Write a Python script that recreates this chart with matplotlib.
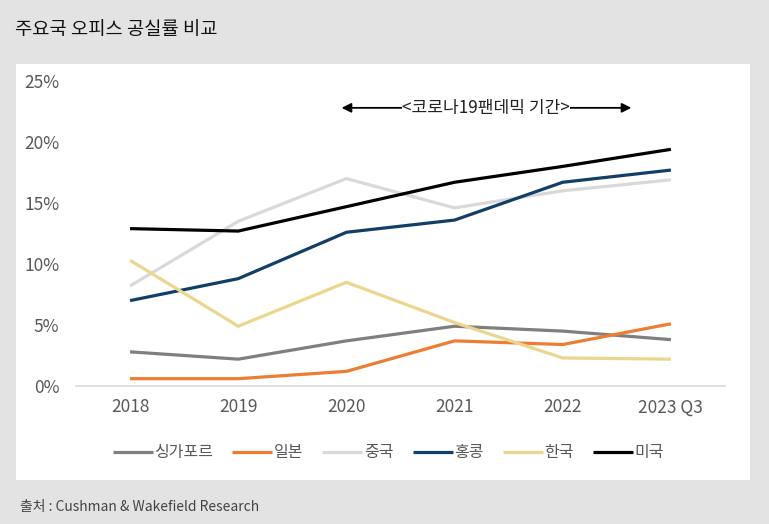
import matplotlib.pyplot as plt
from matplotlib.patches import Rectangle

plt.rcParams['font.family'] = ['Noto Sans CJK KR', 'DejaVu Sans']

years = ['2018', '2019', '2020', '2021', '2022', '2023 Q3']
singapore = [2.8, 2.2, 3.7, 4.9, 4.5, 3.8]
japan = [0.6, 0.6, 1.2, 3.7, 3.4, 5.1]
china = [8.2, 13.5, 17.0, 14.6, 16.0, 16.9]
hongkong = [7.0, 8.8, 12.6, 13.6, 16.7, 17.7]
korea = [10.3, 4.9, 8.5, 5.2, 2.3, 2.2]
usa = [12.9, 12.7, 14.7, 16.7, 18.0, 19.4]

series = [
    ('싱가포르', singapore, '#7f7f7f'),
    ('일본', japan, '#ed7d31'),
    ('중국', china, '#d9d9d9'),
    ('홍콩', hongkong, '#123f66'),
    ('한국', korea, '#ebd68e'),
    ('미국', usa, '#000000'),
]

fig = plt.figure(figsize=(7.69, 5.24), dpi=100, facecolor='#e3e3e3')
fig.patches.append(Rectangle((16 / 769, 1 - 480 / 524), (750 - 16) / 769, (480 - 64) / 524,
                             transform=fig.transFigure, facecolor='white', edgecolor='none', zorder=-5))

ax = fig.add_axes([76 / 769, 1 - 386 / 524, (725 - 76) / 769, (386 - 81) / 524])
ax.set_facecolor('none')
ax.set_zorder(2)

x = list(range(len(years)))
for name, vals, color in series:
    ax.plot(x, vals, color=color, lw=2.3, label=name, solid_capstyle='butt')

ax.set_xlim(-0.5, 5.5)
ax.set_ylim(0, 25)
ax.set_xticks(x)
ax.set_xticklabels(years)
ax.set_yticks([0, 5, 10, 15, 20, 25])
ax.set_yticklabels([f'{v}%' for v in [0, 5, 10, 15, 20, 25]])
ax.tick_params(length=0, labelsize=12.5, labelcolor='#595959')
ax.tick_params(axis='y', pad=12)
ax.tick_params(axis='x', pad=9)
for s in ['top', 'right', 'left']:
    ax.spines[s].set_visible(False)
ax.spines['bottom'].set_color('#d9d9d9')
ax.spines['bottom'].set_linewidth(1.2)

# pandemic period annotation
ax.annotate('', xy=(1.93, 22.8), xytext=(4.66, 22.8),
            arrowprops=dict(arrowstyle='<|-|>', color='black', lw=1.3, mutation_scale=14), zorder=3)
ax.text(3.29, 22.8, '<코로나19팬데믹 기간>', ha='center', va='center', fontsize=12.3,
        color='#222222', zorder=4, bbox=dict(facecolor='white', edgecolor='none', pad=0.3))

fig.legend(loc='center', bbox_to_anchor=(0.505, 1 - 453 / 524), ncol=6, frameon=False,
           fontsize=11.5, handlelength=2.5, handletextpad=0.1, columnspacing=1.2,
           labelcolor='#595959')

fig.text(15 / 769, 1 - 30 / 524, '주요국 오피스 공실률 비교', fontsize=13.5, color='#111111',
         ha='left', va='center')
fig.text(20 / 769, 1 - 507 / 524, '출처 : Cushman & Wakefield Research', fontsize=10,
         color='#444444', ha='left', va='center')

fig.savefig('out.png', dpi=100, facecolor=fig.get_facecolor())
